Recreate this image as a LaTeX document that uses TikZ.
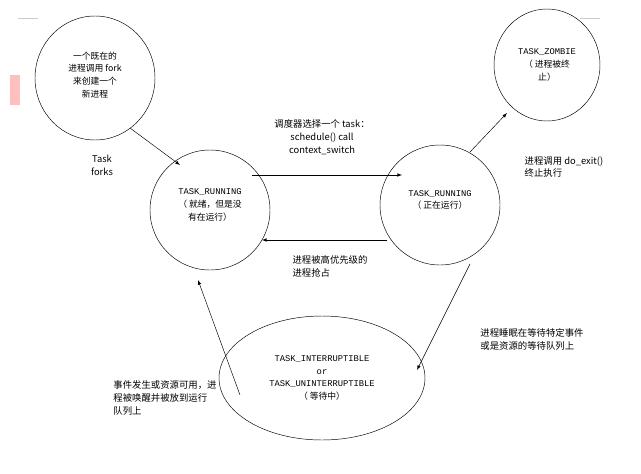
\documentclass[tikz,border=0pt]{standalone}
\usepackage{fontspec}
\newfontfamily\cjk{Noto Sans CJK SC}
\setmonofont{Liberation Mono}
\usetikzlibrary{arrows}
\usetikzlibrary{positioning}

\begin{document}
\begin{tikzpicture}[x=0.03cm, y=-0.03cm, line/.style={>=latex},
	state/.style={font=\cjk\fontsize{7.5}{11}\selectfont, align=center},
	lbl/.style={font=\cjk\fontsize{8}{11}\selectfont, align=center}]

	\useasboundingbox (0,0) rectangle (641,474);
	\fill[red!25] (10,75) rectangle (20,105);
	\draw[gray!40] (18,18) -- (38,18);
	\draw[gray!40] (580,18) -- (600,18);

	% states
	\draw (95,78) ellipse (60 and 62);
	\node[state] (fork) at (95,75) {一个既在的\\进程调用 fork\\来创建一个\\新进程};
	\draw (547,65) ellipse (53 and 56);
	\node[state] (zombie) at (547,65) {\ttfamily TASK\_ZOMBIE\\（ 进程被终\\止）};
	\draw (210,210) ellipse (60 and 60);
	\node[state] (ready) at (210,205) {\ttfamily TASK\_RUNNING\\（ 就绪，但是没\\有在运行）};
	\draw (440,205) ellipse (60 and 60);
	\node[state] (run) at (440,200) {\ttfamily TASK\_RUNNING\\（ 正在运行）};
	\draw (322,378) ellipse (103 and 62);
	\node[state] (wait) at (322,378) {\ttfamily TASK\_INTERRUPTIBLE\\\ttfamily or\\\ttfamily TASK\_UNINTERRUPTIBLE\\（ 等待中）};

	% transitions
	\coordinate (f0) at (130,128); \coordinate (f1) at (180,165);
	\draw[->, line] (f0) -- (f1);
	\node[lbl] (forks) at (102,165) {Task\\forks};

	\coordinate (s0) at (252,175); \coordinate (s1) at (402,175);
	\draw[->, line] (s0) -- (s1);
	\node[lbl] (sched) at (322,137) {调度器选择一个 task：\\schedule() call\\context\_switch};

	\coordinate (p0) at (387,240); \coordinate (p1) at (262,240);
	\draw[->, line] (p0) -- (p1);
	\node[lbl, align=left] (preempt) at (330,266) {进程被高优先级的\\进程抢占};

	\coordinate (e0) at (470,152); \coordinate (e1) at (507,113);
	\draw[->, line] (e0) -- (e1);
	\node[lbl, align=left] (exit) at (564,167) {进程调用 do\_exit()\\终止执行};

	\coordinate (w0) at (470,264); \coordinate (w1) at (417,370);
	\draw[->, line] (w0) -- (w1);
	\node[lbl, align=left] (sleep) at (532,339) {进程睡眠在等待特定事件\\或是资源的等待队列上};

	\coordinate (k0) at (240,395); \coordinate (k1) at (198,280);
	\draw[->, line] (k0) -- (k1);
	\node[lbl, align=left] (wake) at (165,398) {事件发生或资源可用，进\\程被唤醒并被放到运行\\队列上};

\end{tikzpicture}
\end{document}
